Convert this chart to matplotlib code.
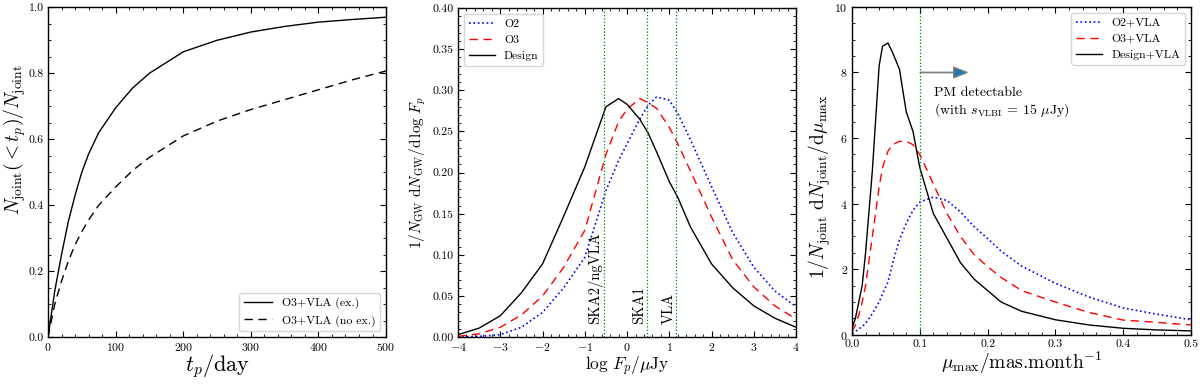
import matplotlib
matplotlib.use('Agg')
import matplotlib.pyplot as plt
from matplotlib.ticker import AutoMinorLocator, FormatStrFormatter

plt.rcParams['font.family'] = 'serif'
plt.rcParams['font.serif'] = ['cmr10']
plt.rcParams['mathtext.fontset'] = 'cm'
plt.rcParams['axes.formatter.use_mathtext'] = True
plt.rcParams['xtick.direction'] = 'in'
plt.rcParams['ytick.direction'] = 'in'
plt.rcParams['xtick.top'] = True
plt.rcParams['ytick.right'] = True
plt.rcParams['axes.linewidth'] = 1.0

# ---------------- panel 1: cumulative fraction vs t_p ----------------
t_days = [0, 5, 10, 20, 30, 40, 50, 60, 75, 100, 125, 150, 200, 250, 300, 350, 400, 450, 500]
frac_ex = [0, 0.07, 0.14, 0.25, 0.35, 0.43, 0.50, 0.555, 0.62, 0.695, 0.755, 0.80,
           0.865, 0.90, 0.925, 0.942, 0.955, 0.963, 0.970]
frac_noex = [0, 0.05, 0.10, 0.17, 0.23, 0.28, 0.32, 0.355, 0.40, 0.455, 0.505, 0.545,
             0.61, 0.655, 0.69, 0.72, 0.75, 0.78, 0.807]

# ---------------- panel 2: flux distribution ----------------
logF = [-4, -3.5, -3, -2.5, -2, -1.5, -1, -0.5, -0.2, 0, 0.3, 0.5, 0.7, 1, 1.2, 1.5,
        2, 2.5, 3, 3.5, 4]
flux_design = [0.003, 0.011, 0.026, 0.054, 0.089, 0.147, 0.207, 0.28, 0.29, 0.283, 0.265,
               0.248, 0.225, 0.189, 0.17, 0.134, 0.089, 0.06, 0.038, 0.023, 0.012]
flux_o3 = [0.001, 0.004, 0.012, 0.027, 0.05, 0.085, 0.13, 0.222, 0.262, 0.277, 0.29,
           0.285, 0.278, 0.255, 0.235, 0.202, 0.146, 0.094, 0.061, 0.038, 0.022]
flux_o2 = [0.0, 0.001, 0.003, 0.012, 0.03, 0.06, 0.097, 0.178, 0.215, 0.235, 0.265,
           0.282, 0.292, 0.288, 0.272, 0.24, 0.183, 0.127, 0.085, 0.056, 0.037]
instr_names = ['SKA2/ngVLA', 'SKA1', 'VLA']
instr_logF = [-0.54, 0.47, 1.17]

# ---------------- panel 3: proper motion distribution ----------------
mu = [0, 0.005, 0.01, 0.015, 0.02, 0.03, 0.04, 0.045, 0.053, 0.06, 0.07, 0.08, 0.09,
      0.1, 0.12, 0.14, 0.16, 0.18, 0.2, 0.22, 0.25, 0.3, 0.35, 0.4, 0.45, 0.5]
pm_design = [0.2, 0.5, 1.0, 1.5, 2.5, 5.0, 8.2, 8.8, 8.9, 8.6, 8.1, 6.8, 6.2,
             5.1, 3.7, 2.95, 2.2, 1.7, 1.35, 1.0, 0.72, 0.46, 0.3, 0.2, 0.15, 0.12]
pm_o3 = [0.1, 0.3, 0.6, 1.0, 1.5, 3.0, 4.5, 5.1, 5.6, 5.8, 5.9, 5.9, 5.8,
         5.5, 4.6, 3.7, 3.0, 2.45, 2.08, 1.75, 1.35, 1.0, 0.68, 0.45, 0.38, 0.3]
pm_o2 = [0.05, 0.1, 0.18, 0.25, 0.35, 0.65, 1.0, 1.25, 1.6, 2.2, 2.9, 3.4, 3.8,
         4.05, 4.2, 4.1, 3.75, 3.3, 2.94, 2.55, 2.1, 1.57, 1.15, 0.82, 0.63, 0.46]
mu_cut = 0.1

fig = plt.figure(figsize=(12, 3.84), dpi=100)
ax1 = fig.add_axes([0.040, 0.122, 0.2817, 0.859])
ax2 = fig.add_axes([0.3817, 0.122, 0.2817, 0.857])
ax3 = fig.add_axes([0.710, 0.128, 0.2825, 0.854])

for ax in (ax1, ax2, ax3):
    ax.xaxis.set_minor_locator(AutoMinorLocator())
    ax.yaxis.set_minor_locator(AutoMinorLocator())
    ax.tick_params(which='major', length=4, labelsize=8.5, pad=3)
    ax.tick_params(which='minor', length=2)

# panel 1
ax1.plot(t_days, frac_ex, 'k-', lw=1.0, label='O3+VLA (ex.)')
ax1.plot(t_days, frac_noex, 'k--', lw=1.0, dashes=(6, 4), label='O3+VLA (no ex.)')
ax1.set_xlim(0, 500)
ax1.set_ylim(0, 1.0)
ax1.yaxis.set_major_formatter(FormatStrFormatter('%.1f'))
ax1.set_xlabel(r'$t_p/\mathrm{day}$', fontsize=16)
ax1.set_ylabel(r'$N_{\rm joint}(<t_p)/N_{\rm joint}$', fontsize=14)
ax1.xaxis.set_label_coords(0.5, -0.045)
ax1.yaxis.set_label_coords(-0.06, 0.6)
ax1.legend(loc='lower right', fontsize=8.5, handlelength=2.4)

# panel 2
ax2.plot(logF, flux_o2, 'b:', lw=1.2, label='O2')
ax2.plot(logF, flux_o3, 'r--', lw=1.0, dashes=(6, 4), label='O3')
ax2.plot(logF, flux_design, 'k-', lw=1.0, label='Design')
for name, xv in zip(instr_names, instr_logF):
    ax2.axvline(xv, color='g', ls=':', lw=0.9)
    ax2.text(xv - 0.03, 0.016, name, rotation=90, ha='right', va='bottom', fontsize=10.5)
ax2.set_xlim(-4, 4)
ax2.set_ylim(0, 0.4)
ax2.yaxis.set_major_formatter(FormatStrFormatter('%.2f'))
ax2.set_xlabel(r'$\log\,F_p/\mu\mathrm{Jy}$', fontsize=12.5)
ax2.set_ylabel(r'$1/N_{\rm GW}\ \mathrm{d}N_{\rm GW}/\mathrm{d}\,\log\,F_p$', fontsize=11)
ax2.xaxis.set_label_coords(0.5, -0.055)
ax2.yaxis.set_label_coords(-0.089, 0.5)
ax2.legend(loc='upper left', fontsize=8.5, handlelength=2.2)

# panel 3
ax3.plot(mu, pm_o2, 'b:', lw=1.2, label='O2+VLA')
ax3.plot(mu, pm_o3, 'r--', lw=1.0, dashes=(6, 4), label='O3+VLA')
ax3.plot(mu, pm_design, 'k-', lw=1.0, label='Design+VLA')
ax3.axvline(mu_cut, color='g', ls=':', lw=0.9)
ax3.arrow(mu_cut, 8.0, 0.05, 0, width=0.0, head_width=0.32, head_length=0.02,
          fc='#1f77b4', ec='grey', lw=1.0, length_includes_head=False)
ax3.text(0.121, 7.55, 'PM detectable\n(with $s_{\\rm VLBI}$ = 15 $\\mu$Jy)',
         ha='left', va='top', fontsize=10, linespacing=1.15)
ax3.set_xlim(0, 0.5)
ax3.set_ylim(0, 10)
ax3.xaxis.set_major_formatter(FormatStrFormatter('%.1f'))
ax3.set_xlabel(r'$\mu_{\rm max}$/mas.month$^{-1}$', fontsize=14)
ax3.set_ylabel(r'$1/N_{\rm joint}\ \mathrm{d}N_{\rm joint}/\mathrm{d}\mu_{\rm max}$', fontsize=14)
ax3.xaxis.set_label_coords(0.5, -0.045)
ax3.yaxis.set_label_coords(-0.056, 0.45)
ax3.legend(loc='upper right', fontsize=8.5, handlelength=2.2)

fig.savefig('out.png', dpi=100)
